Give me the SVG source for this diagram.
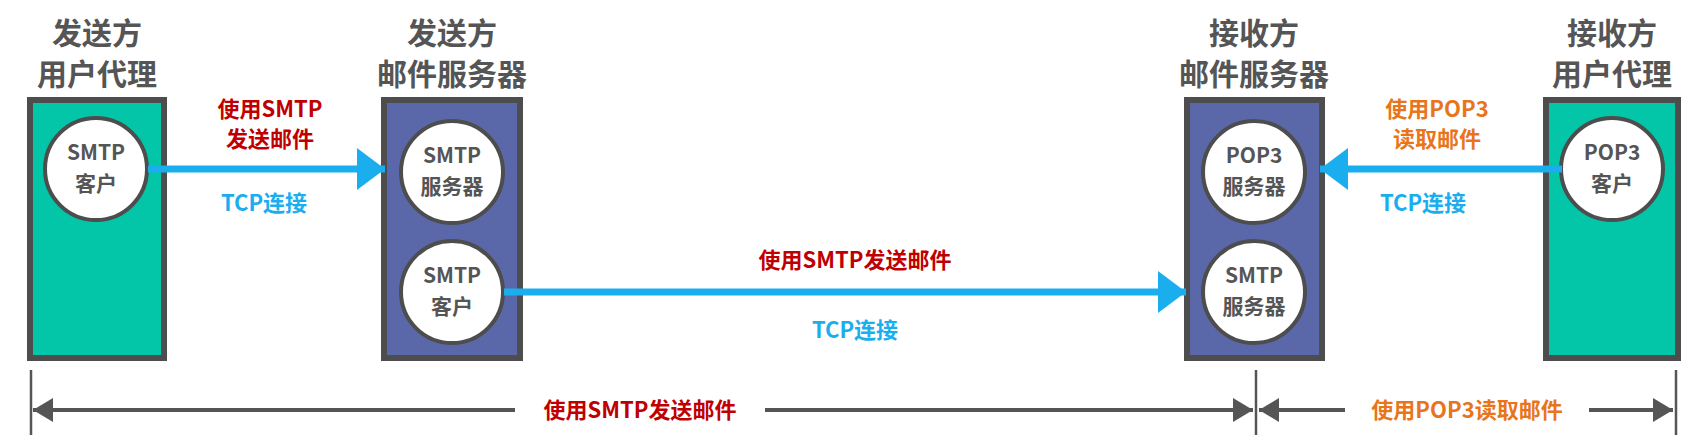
<svg xmlns="http://www.w3.org/2000/svg" width="1684" height="438" viewBox="0 0 1684 438">
<defs>
<style>
text{font-family:"Noto Sans CJK SC","Liberation Sans",sans-serif;font-weight:bold;text-anchor:middle}
.title{font-size:30px;fill:#555}
.ua{fill:#03C5A8;stroke:#4D4D4D;stroke-width:6}
.sv{fill:#5A68AA;stroke:#4D4D4D;stroke-width:6}
.c{fill:#fff;stroke:#4D4D4D;stroke-width:4}
.ct{font-size:21px;fill:#555}
.red{fill:#C00000;font-size:22px}
.blue{fill:#1AAEEF;font-size:22px}
.org{fill:#E8751A;font-size:22px}
.bl{stroke:#1AAEEF;stroke-width:7;fill:none}
.gl{stroke:#555;stroke-width:4;fill:none}
.vl{stroke:#555;stroke-width:2.5}
</style>
<marker id="ab" markerWidth="6" markerHeight="6" refX="4" refY="3" orient="auto" markerUnits="strokeWidth"><path d="M0,0 L4,3 L0,6 z" fill="#1AAEEF"/></marker>
<marker id="ag" markerWidth="6" markerHeight="6" refX="5" refY="3" orient="auto-start-reverse" markerUnits="strokeWidth"><path d="M0,0 L5,3 L0,6 z" fill="#555"/></marker>
</defs>
<rect width="1684" height="438" fill="#fff"/>
<g id="sender-ua">
<text class="title" x="97" y="44">发送方</text><text class="title" x="97" y="85">用户代理</text>
<rect class="ua" x="30" y="100" width="134" height="258"/>
<circle class="c" cx="96" cy="169" r="51"/>
<text class="ct" x="96" y="160">SMTP</text><text class="ct" x="96" y="191">客户</text>
</g>
<g id="sender-server">
<text class="title" x="452" y="44">发送方</text><text class="title" x="452" y="85">邮件服务器</text>
<rect class="sv" x="384" y="100" width="136" height="258"/>
<circle class="c" cx="452" cy="172" r="51"/>
<text class="ct" x="452" y="163">SMTP</text><text class="ct" x="452" y="194">服务器</text>
<circle class="c" cx="452" cy="292" r="51"/>
<text class="ct" x="452" y="283">SMTP</text><text class="ct" x="452" y="314">客户</text>
</g>
<g id="receiver-server">
<text class="title" x="1254" y="44">接收方</text><text class="title" x="1254" y="85">邮件服务器</text>
<rect class="sv" x="1187" y="100" width="135" height="258"/>
<circle class="c" cx="1254" cy="172" r="51"/>
<text class="ct" x="1254" y="163">POP3</text><text class="ct" x="1254" y="194">服务器</text>
<circle class="c" cx="1254" cy="292" r="51"/>
<text class="ct" x="1254" y="283">SMTP</text><text class="ct" x="1254" y="314">服务器</text>
</g>
<g id="receiver-ua">
<text class="title" x="1612" y="44">接收方</text><text class="title" x="1612" y="85">用户代理</text>
<rect class="ua" x="1546" y="100" width="132" height="258"/>
<circle class="c" cx="1612" cy="169" r="51"/>
<text class="ct" x="1612" y="160">POP3</text><text class="ct" x="1612" y="191">客户</text>
</g>
<g id="connectors">
<line class="bl" x1="148" y1="169" x2="385" y2="169" marker-end="url(#ab)"/>
<line class="bl" x1="504" y1="292" x2="1186" y2="292" marker-end="url(#ab)"/>
<line class="bl" x1="1562" y1="169" x2="1320" y2="169" marker-end="url(#ab)"/>
<line class="vl" x1="31" y1="370" x2="31" y2="435"/>
<line class="vl" x1="1256" y1="370" x2="1256" y2="435"/>
<line class="vl" x1="1676" y1="370" x2="1676" y2="435"/>
<line class="gl" x1="33" y1="410" x2="1253" y2="410" marker-start="url(#ag)" marker-end="url(#ag)"/>
<line class="gl" x1="1259" y1="410" x2="1673" y2="410" marker-start="url(#ag)" marker-end="url(#ag)"/>
</g>
<g id="labels">
<text class="red" x="270" y="117">使用SMTP</text><text class="red" x="270" y="147">发送邮件</text>
<text class="blue" x="264" y="211">TCP连接</text>
<text class="red" x="855" y="268">使用SMTP发送邮件</text>
<text class="blue" x="855" y="338">TCP连接</text>
<text class="org" x="1437" y="117">使用POP3</text><text class="org" x="1437" y="147">读取邮件</text>
<text class="blue" x="1423" y="211">TCP连接</text>
<rect x="515" y="396" width="250" height="28" fill="#fff"/>
<text class="red" x="640" y="418">使用SMTP发送邮件</text>
<rect x="1345" y="396" width="244" height="28" fill="#fff"/>
<text class="org" x="1467" y="418">使用POP3读取邮件</text>
</g>
</svg>
